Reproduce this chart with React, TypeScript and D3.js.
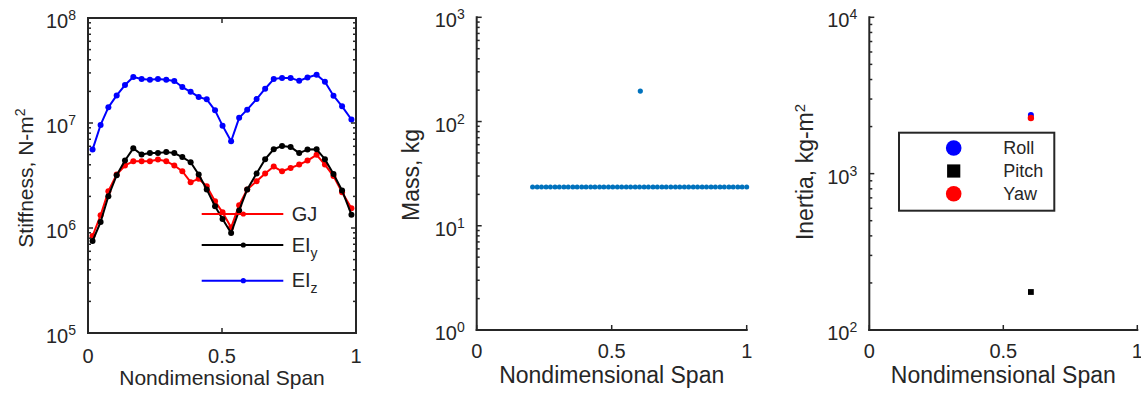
import React from 'react';
import * as d3 from 'd3';

// ---------- data ----------
const spanX = [0.017, 0.047, 0.076, 0.107, 0.138, 0.169, 0.200, 0.231, 0.261, 0.292, 0.322, 0.352, 0.383, 0.413, 0.443, 0.474,
  0.502, 0.534, 0.564, 0.594, 0.629, 0.661, 0.693, 0.724, 0.756, 0.788, 0.819, 0.853, 0.884, 0.916, 0.948, 0.983];
const gjStiff = [8.39e5, 1.32e6, 2.24e6, 3.23e6, 3.94e6, 4.32e6, 4.32e6, 4.32e6, 4.49e6, 4.32e6, 3.94e6, 3.47e6, 2.73e6, 2.94e6, 2.50e6, 1.80e6,
  1.41e6, 1.01e6, 1.65e6, 2.33e6, 2.79e6, 3.30e6, 3.85e6, 3.47e6, 3.73e6, 4.02e6, 4.39e6, 4.98e6, 4.02e6, 3.12e6, 2.19e6, 1.54e6];
const eiyStiff = [7.52e5, 1.14e6, 2.01e6, 3.18e6, 4.39e6, 5.74e6, 5.00e6, 5.17e6, 5.19e6, 5.28e6, 5.17e6, 4.74e6, 4.23e6, 3.23e6, 2.33e6, 1.61e6,
  1.22e6, 8.96e5, 1.47e6, 2.33e6, 3.30e6, 4.52e6, 5.62e6, 6.05e6, 5.92e6, 5.17e6, 5.58e6, 5.62e6, 4.52e6, 3.27e6, 2.28e6, 1.34e6];
const eizStiff = [5.58e6, 9.58e6, 1.41e7, 1.83e7, 2.30e7, 2.74e7, 2.62e7, 2.58e7, 2.62e7, 2.58e7, 2.51e7, 2.20e7, 1.98e7, 1.77e7, 1.68e7, 1.32e7,
  9.44e6, 6.70e6, 1.12e7, 1.34e7, 1.69e7, 2.12e7, 2.62e7, 2.69e7, 2.69e7, 2.52e7, 2.71e7, 2.88e7, 2.47e7, 1.82e7, 1.44e7, 1.08e7];

const massX = [0.207, 0.224, 0.240, 0.257, 0.273, 0.290, 0.306, 0.323, 0.339, 0.356, 0.372, 0.389, 0.405, 0.422, 0.438, 0.455,
  0.471, 0.488, 0.504, 0.521, 0.537, 0.554, 0.570, 0.587, 0.603, 0.620, 0.636, 0.653, 0.669, 0.686, 0.702, 0.719, 0.736,
  0.752, 0.769, 0.785, 0.802, 0.818, 0.835, 0.851, 0.868, 0.884, 0.901, 0.917, 0.934, 0.950, 0.967, 0.983, 1.000];
const massKg = [23.5, 23.5, 23.5, 23.5, 23.5, 23.5, 23.5, 23.5, 23.5, 23.5, 23.5, 23.5, 23.5, 23.5, 23.5, 23.5,
  23.5, 23.5, 23.5, 23.5, 23.5, 23.5, 23.5, 23.5, 23.5, 23.5, 23.5, 23.5, 23.5, 23.5, 23.5, 23.5, 23.5,
  23.5, 23.5, 23.5, 23.5, 23.5, 23.5, 23.5, 23.5, 23.5, 23.5, 23.5, 23.5, 23.5, 23.5, 23.5, 23.5];
const lumpX = [0.606];
const lumpKg = [196];

const inertiaX = [0.603];
const rollI = [2371];
const pitchI = [175];
const yawI = [2270];

const xTicks = [0, 0.5, 1];
const xTickLabels = ['0', '0.5', '1'];

// ---------- styling ----------
const AX = '#262626';
const FONT = '"Liberation Sans", Arial, Helvetica, sans-serif';

type PanelProps = {
  left: number; right: number; top: number; bottom: number;
  expLo: number; expHi: number; box: boolean;
  tickBase: number; labelBase: number; labelSize: number;
  xlabel: string; ylabelX: number; ylabelY: number;
  ylabel: React.ReactNode;
  children: (x: d3.ScaleLinear<number, number>, y: d3.ScaleLogarithmic<number, number>) => React.ReactNode;
};

function Panel(p: PanelProps) {
  const x = d3.scaleLinear().domain([0, 1]).range([p.left, p.right]);
  const y = d3.scaleLog().domain([Math.pow(10, p.expLo), Math.pow(10, p.expHi)]).range([p.bottom, p.top]);
  const majors: number[] = [];
  const minors: number[] = [];
  for (let e = p.expLo; e <= p.expHi; e++) {
    majors.push(e);
    if (e < p.expHi) for (let m = 2; m <= 9; m++) minors.push(m * Math.pow(10, e));
  }
  const ticks: React.ReactNode[] = [];
  xTicks.forEach((t, i) => {
    ticks.push(<line key={'xb' + i} x1={x(t)} x2={x(t)} y1={p.bottom} y2={p.bottom - 5} stroke={AX} strokeWidth={1.5} />);
    if (p.box) ticks.push(<line key={'xt' + i} x1={x(t)} x2={x(t)} y1={p.top} y2={p.top + 5} stroke={AX} strokeWidth={1.5} />);
  });
  majors.forEach((e, i) => {
    const yy = y(Math.pow(10, e));
    ticks.push(<line key={'yl' + i} x1={p.left} x2={p.left + 5} y1={yy} y2={yy} stroke={AX} strokeWidth={1.5} />);
    if (p.box) ticks.push(<line key={'yr' + i} x1={p.right} x2={p.right - 5} y1={yy} y2={yy} stroke={AX} strokeWidth={1.5} />);
  });
  minors.forEach((v, i) => {
    const yy = y(v);
    ticks.push(<line key={'ml' + i} x1={p.left} x2={p.left + 3} y1={yy} y2={yy} stroke={AX} strokeWidth={1.5} />);
    if (p.box) ticks.push(<line key={'mr' + i} x1={p.right} x2={p.right - 3} y1={yy} y2={yy} stroke={AX} strokeWidth={1.5} />);
  });
  return (
    <g fontFamily={FONT} fill={AX}>
      {p.children(x, y)}
      {ticks}
      <line x1={p.left} x2={p.right} y1={p.bottom} y2={p.bottom} stroke={AX} strokeWidth={2} strokeLinecap="square" />
      <line x1={p.left} x2={p.left} y1={p.top} y2={p.bottom} stroke={AX} strokeWidth={2} strokeLinecap="square" />
      {p.box && <line x1={p.left} x2={p.right} y1={p.top} y2={p.top} stroke={AX} strokeWidth={2} strokeLinecap="square" />}
      {p.box && <line x1={p.right} x2={p.right} y1={p.top} y2={p.bottom} stroke={AX} strokeWidth={2} strokeLinecap="square" />}
      {xTicks.map((t, i) => (
        <text key={'xl' + i} x={x(t)} y={p.tickBase} textAnchor="middle" fontSize={20}>{xTickLabels[i]}</text>
      ))}
      {majors.map((e, i) => (
        <text key={'yt' + i} x={p.left - 12} y={y(Math.pow(10, e)) + 10} textAnchor="end" fontSize={20}>
          10<tspan fontSize={14} dy={-8}>{e}</tspan>
        </text>
      ))}
      <text x={(p.left + p.right) / 2} y={p.labelBase} textAnchor="middle" fontSize={p.labelSize}>{p.xlabel}</text>
      <text transform={`translate(${p.ylabelX},${p.ylabelY}) rotate(-90)`} textAnchor="middle" fontSize={p.labelSize}>{p.ylabel}</text>
    </g>
  );
}

export default function App() {
  const stiffSeries = [
    { name: 'GJ', vals: gjStiff, color: '#FF0000' },
    { name: 'EIy', vals: eiyStiff, color: '#000000' },
    { name: 'EIz', vals: eizStiff, color: '#0000FF' },
  ];
  const legendRows = [
    { y: 214, color: '#FF0000', main: 'GJ', sub: '' },
    { y: 245, color: '#000000', main: 'EI', sub: 'y' },
    { y: 280.7, color: '#0000FF', main: 'EI', sub: 'z' },
  ];
  const rightLegend = [
    { y: 148, label: 'Roll', kind: 'circle', color: '#0000FF' },
    { y: 171, label: 'Pitch', kind: 'square', color: '#000000' },
    { y: 193.7, label: 'Yaw', kind: 'circle', color: '#FF0000' },
  ];
  return (
    <svg width={1141} height={394} style={{ position: 'absolute', left: 0, top: 0, background: '#fff' }}>
      <rect x={0} y={0} width={1141} height={394} fill="#fff" />
      <Panel left={88} right={356} top={18} bottom={333} expLo={5} expHi={8} box={true}
        tickBase={363} labelBase={385} labelSize={21} xlabel="Nondimensional Span"
        ylabelX={33} ylabelY={178} ylabel={<>Stiffness, N-m<tspan fontSize={14} dy={-8}>2</tspan></>}>
        {(x, y) => (
          <g>
            {stiffSeries.map((s) => {
              const line = d3.line<number>().x((_, i) => x(spanX[i])).y((v) => y(v));
              return (
                <g key={s.name}>
                  <path d={line(s.vals) || ''} fill="none" stroke={s.color} strokeWidth={2} strokeLinejoin="round" />
                  {s.vals.map((v, i) => <circle key={i} cx={x(spanX[i])} cy={y(v)} r={3} fill={s.color} />)}
                </g>
              );
            })}
            {legendRows.map((r) => (
              <g key={r.main + r.sub}>
                <line x1={201.7} x2={283.3} y1={r.y} y2={r.y} stroke={r.color} strokeWidth={2} />
                <circle cx={243.3} cy={r.y} r={2.6} fill={r.color} />
                <text x={291.7} y={r.y + 6.5} fontSize={20} fill={AX}>
                  {r.main}{r.sub && <tspan fontSize={14} dy={6}>{r.sub}</tspan>}
                </text>
              </g>
            ))}
          </g>
        )}
      </Panel>
      <Panel left={476.7} right={746.7} top={17.3} bottom={330} expLo={0} expHi={3} box={false}
        tickBase={358} labelBase={383.3} labelSize={23} xlabel="Nondimensional Span"
        ylabelX={419} ylabelY={175} ylabel="Mass, kg">
        {(x, y) => (
          <g>
            {massX.map((v, i) => <circle key={i} cx={x(v)} cy={y(massKg[i])} r={2.5} fill="#0072BD" />)}
            {lumpX.map((v, i) => <circle key={'l' + i} cx={x(v)} cy={y(lumpKg[i])} r={2.6} fill="#0072BD" />)}
          </g>
        )}
      </Panel>
      <Panel left={869.3} right={1137.3} top={17.3} bottom={330} expLo={2} expHi={4} box={false}
        tickBase={358} labelBase={382.7} labelSize={23} xlabel="Nondimensional Span"
        ylabelX={813} ylabelY={172} ylabel={<>Inertia, kg-m<tspan fontSize={15} dy={-8}>2</tspan></>}>
        {(x, y) => (
          <g>
            {inertiaX.map((v, i) => <circle key={'r' + i} cx={x(v)} cy={y(rollI[i])} r={3} fill="#0000FF" />)}
            {inertiaX.map((v, i) => <circle key={'y' + i} cx={x(v)} cy={y(yawI[i])} r={3.2} fill="#FF0000" />)}
            {inertiaX.map((v, i) => <rect key={'p' + i} x={x(v) - 2.9} y={y(pitchI[i]) - 2.9} width={5.8} height={5.8} fill="#000000" />)}
            <rect x={899} y={132.7} width={155.3} height={78} fill="#fff" stroke={AX} strokeWidth={2} />
            {rightLegend.map((r) => (
              <g key={r.label}>
                {r.kind === 'circle'
                  ? <circle cx={953.7} cy={r.y} r={7.8} fill={r.color} />
                  : <rect x={953.7 - 6.6} y={r.y - 6.6} width={13.2} height={13.2} fill={r.color} />}
                <text x={1003.3} y={r.y + 6.3} fontSize={18} fill={AX}>{r.label}</text>
              </g>
            ))}
          </g>
        )}
      </Panel>
    </svg>
  );
}
